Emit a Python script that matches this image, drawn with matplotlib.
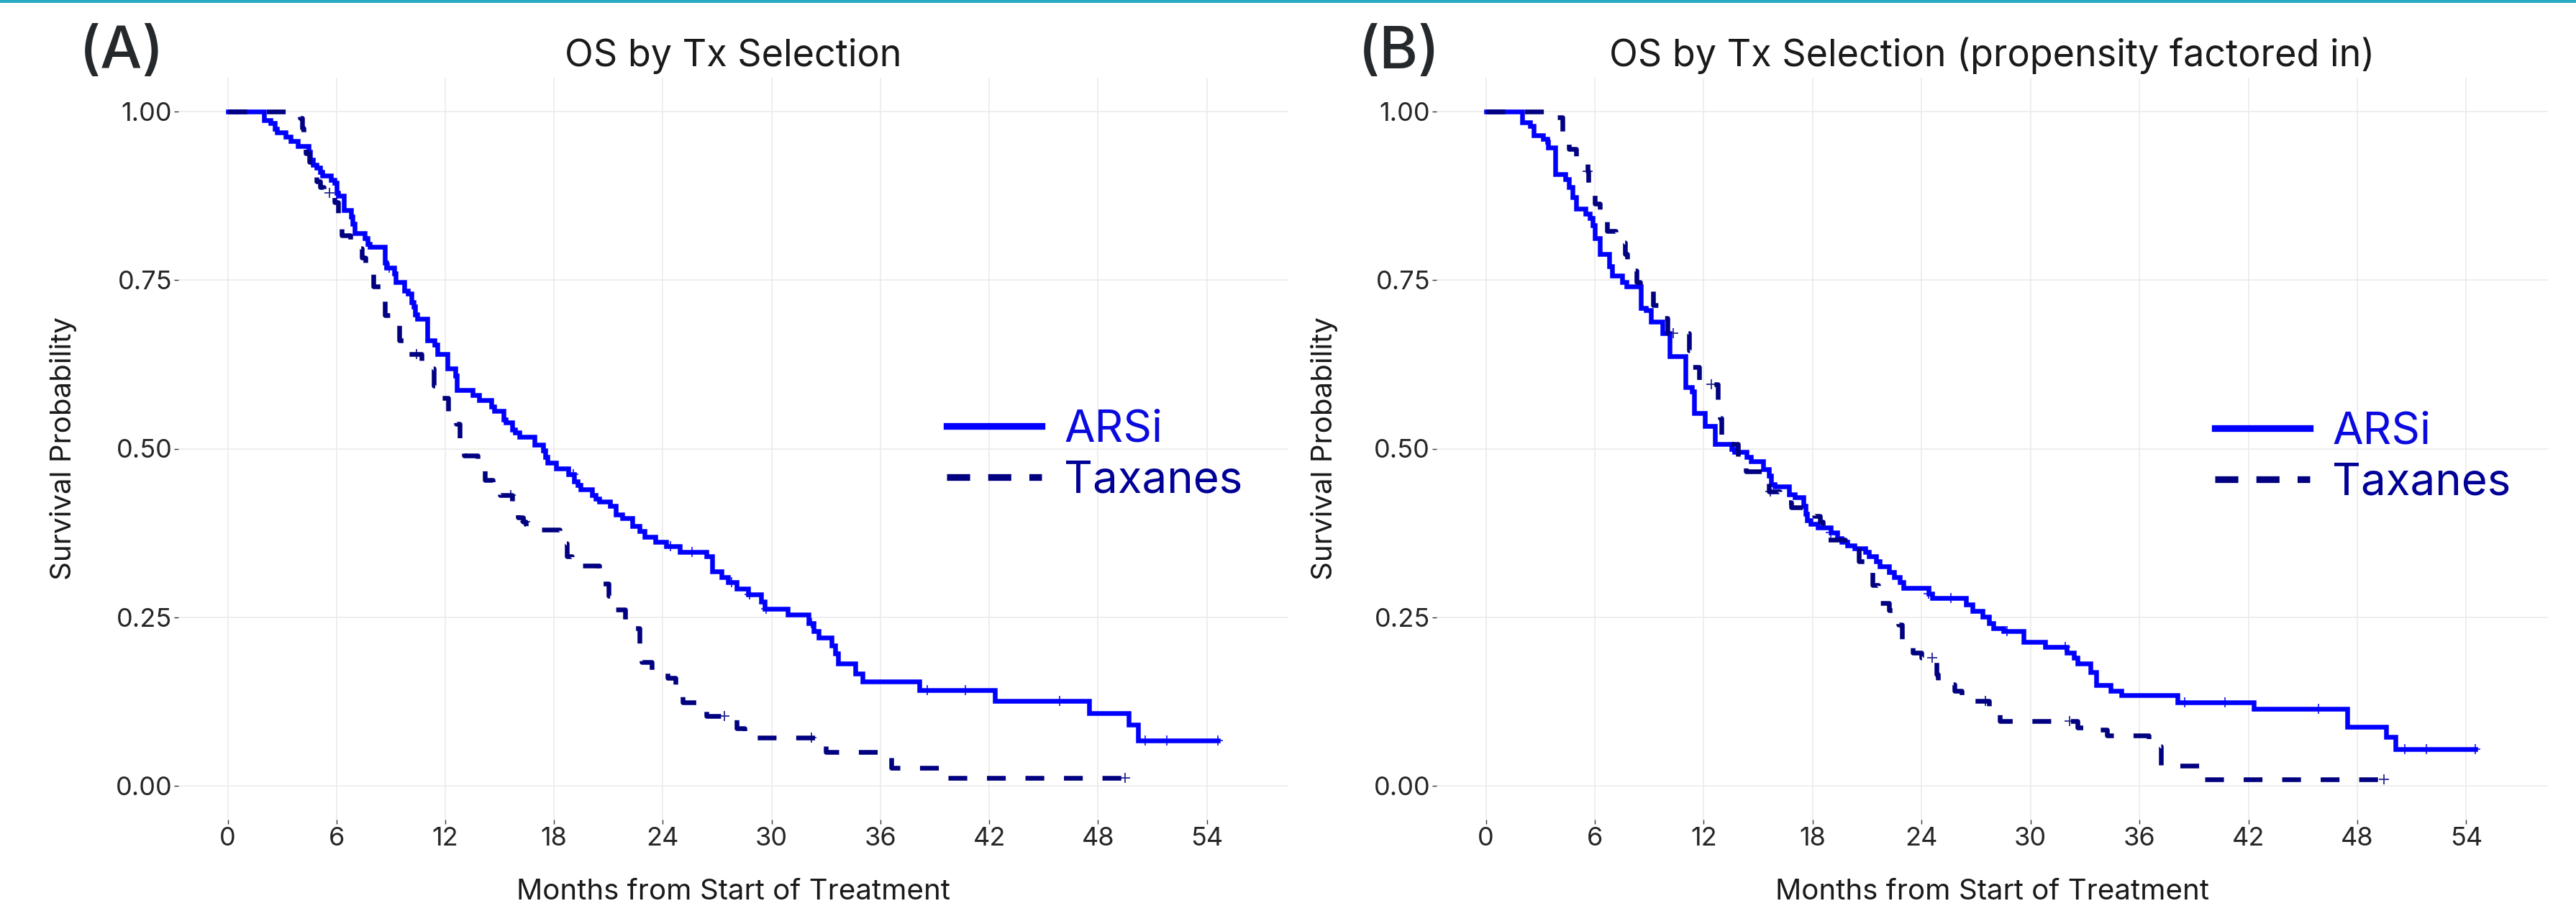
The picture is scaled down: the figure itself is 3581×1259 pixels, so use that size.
import numpy as np
import matplotlib
matplotlib.use("Agg")
import matplotlib.pyplot as plt
from matplotlib.lines import Line2D
from matplotlib.patches import Rectangle

plt.rcParams['font.family'] = ['Inter', 'DejaVu Sans']

# Kaplan-Meier steps: time (months) and survival after each step
arsi_a_t = [0, 2.0, 2.35, 2.6, 2.7, 3.2, 3.45, 3.85, 4.45, 4.55, 4.7, 4.9, 5.1, 5.2, 5.7, 5.9, 6.0, 6.1,
            6.4, 6.8, 6.9, 7.0, 7.55, 7.7, 7.85, 8.65, 8.75, 9.2, 9.25, 9.75, 9.95, 10.15, 10.25, 10.35,
            10.45, 11.0, 11.4, 11.55, 12.1, 12.55, 12.65, 13.5, 13.85, 14.55, 14.7, 15.2, 15.35, 15.7,
            15.85, 16.1, 16.9, 17.4, 17.5, 17.65, 18.1, 18.8, 19.1, 19.3, 19.45, 20.1, 20.3, 20.5, 21.1,
            21.4, 21.75, 22.3, 22.7, 23.0, 23.6, 24.2, 24.95, 26.4, 26.7, 27.25, 27.6, 28.05, 28.7, 29.4,
            29.6, 30.9, 32.05, 32.3, 32.6, 33.3, 33.5, 33.65, 34.6, 35.0, 38.15, 42.3, 47.5, 49.7, 50.2, 54.6]
arsi_a_s = [1.0, 0.987, 0.983, 0.974, 0.969, 0.963, 0.956, 0.949, 0.940, 0.928, 0.921, 0.917, 0.910, 0.905,
            0.898, 0.894, 0.879, 0.875, 0.854, 0.844, 0.833, 0.820, 0.812, 0.804, 0.799, 0.776, 0.768, 0.760,
            0.747, 0.734, 0.730, 0.717, 0.711, 0.699, 0.693, 0.661, 0.654, 0.640, 0.619, 0.608, 0.587, 0.579,
            0.572, 0.562, 0.556, 0.543, 0.539, 0.528, 0.524, 0.518, 0.506, 0.497, 0.488, 0.479, 0.471, 0.462,
            0.451, 0.446, 0.440, 0.431, 0.426, 0.422, 0.415, 0.402, 0.397, 0.385, 0.378, 0.369, 0.362, 0.355,
            0.347, 0.341, 0.318, 0.310, 0.302, 0.292, 0.284, 0.273, 0.263, 0.254, 0.241, 0.230, 0.220, 0.208,
            0.196, 0.181, 0.167, 0.155, 0.142, 0.126, 0.108, 0.091, 0.067, 0.067]
arsi_a_cens = [8.9, 19.05, 24.4, 25.6, 27.8, 28.8, 29.7, 32.2, 38.6, 40.7, 45.9, 50.6, 51.8, 54.6]

tax_a_t = [0, 4.0, 4.1, 4.2, 4.3, 4.5, 4.9, 5.1, 5.3, 5.9, 6.1, 6.3, 6.75, 7.4, 7.6, 8.05, 8.45, 8.65, 9.3,
           9.45, 9.8, 10.7, 11.2, 11.35, 11.8, 12.15, 12.6, 12.8, 13.05, 13.8, 14.2, 14.6, 15.0, 15.7, 16.0,
           16.3, 16.45, 18.3, 18.7, 19.0, 20.5, 21.0, 21.4, 21.9, 22.4, 22.7, 22.85, 23.4, 24.25, 24.7, 25.1,
           25.9, 26.4, 28.05, 28.5, 32.4, 33.0, 36.6, 39.4, 49.5]
tax_a_s = [1.0, 0.990, 0.975, 0.966, 0.938, 0.925, 0.896, 0.888, 0.879, 0.865, 0.843, 0.816, 0.797, 0.783,
           0.762, 0.741, 0.722, 0.698, 0.688, 0.661, 0.640, 0.629, 0.619, 0.593, 0.575, 0.553, 0.537, 0.511,
           0.490, 0.474, 0.454, 0.440, 0.431, 0.408, 0.398, 0.392, 0.380, 0.360, 0.340, 0.327, 0.300, 0.282,
           0.262, 0.246, 0.234, 0.209, 0.184, 0.168, 0.160, 0.146, 0.124, 0.118, 0.104, 0.085, 0.072, 0.060,
           0.050, 0.027, 0.012, 0.012]
tax_a_cens = [5.6, 10.4, 15.6, 16.4, 27.4, 32.2, 49.5]

arsi_b_t = [0, 2.0, 2.43, 2.63, 3.14, 3.4, 3.44, 3.81, 4.36, 4.56, 4.76, 4.96, 5.47, 5.73, 5.87, 5.98, 6.28,
            6.79, 6.93, 7.5, 7.76, 8.55, 8.81, 9.1, 9.72, 10.1, 11.0, 11.35, 11.45, 12.05, 12.6, 13.53, 13.67,
            14.34, 14.6, 15.25, 15.6, 15.7, 15.9, 16.7, 17.0, 17.5, 17.6, 17.7, 17.9, 18.3, 19.0, 19.35, 19.6,
            19.9, 20.3, 20.9, 21.1, 21.5, 21.7, 22.2, 22.5, 22.8, 23.0, 24.4, 24.6, 26.45, 26.8, 27.36, 27.7,
            27.93, 28.5, 29.6, 30.8, 32.0, 32.4, 32.6, 33.3, 33.6, 34.4, 35.0, 38.1, 42.3, 47.45, 49.6, 50.1, 54.5]
arsi_b_s = [1.0, 0.984, 0.978, 0.965, 0.959, 0.955, 0.947, 0.907, 0.900, 0.888, 0.873, 0.856, 0.848, 0.842,
            0.831, 0.812, 0.789, 0.770, 0.757, 0.747, 0.741, 0.709, 0.705, 0.688, 0.671, 0.637, 0.591, 0.585,
            0.553, 0.534, 0.507, 0.499, 0.495, 0.488, 0.481, 0.470, 0.460, 0.447, 0.444, 0.432, 0.428, 0.415,
            0.403, 0.394, 0.388, 0.383, 0.376, 0.367, 0.362, 0.356, 0.352, 0.347, 0.341, 0.333, 0.326, 0.317,
            0.310, 0.302, 0.294, 0.285, 0.279, 0.269, 0.259, 0.251, 0.241, 0.234, 0.230, 0.214, 0.206, 0.198,
            0.190, 0.181, 0.169, 0.149, 0.141, 0.135, 0.124, 0.114, 0.088, 0.073, 0.055, 0.055]
arsi_b_cens = [19.0, 24.4, 25.6, 28.7, 31.9, 38.5, 40.7, 45.85, 50.6, 51.8, 54.5]

tax_b_t = [0, 3.95, 4.2, 4.56, 4.96, 5.6, 5.65, 5.98, 6.28, 6.69, 7.13, 7.66, 7.8, 8.3, 8.5, 9.2, 9.6, 10.0,
           11.2, 11.35, 11.75, 11.95, 12.76, 12.9, 12.97, 13.5, 13.9, 14.3, 15.45, 15.6, 16.2, 16.8, 18.1,
           18.4, 18.55, 19.8, 20.55, 21.1, 21.3, 21.6, 22.2, 22.7, 22.9, 23.5, 24.0, 24.8, 24.9, 25.8, 26.2,
           27.7, 28.3, 32.6, 33.4, 34.2, 36.5, 37.0, 37.2, 39.5, 49.45]
tax_b_s = [1.0, 0.991, 0.966, 0.944, 0.928, 0.911, 0.886, 0.863, 0.844, 0.823, 0.806, 0.789, 0.764, 0.747,
           0.736, 0.713, 0.694, 0.671, 0.646, 0.621, 0.602, 0.595, 0.561, 0.545, 0.514, 0.507, 0.480, 0.466,
           0.455, 0.437, 0.420, 0.413, 0.400, 0.392, 0.365, 0.356, 0.333, 0.317, 0.298, 0.271, 0.261, 0.239,
           0.218, 0.198, 0.190, 0.165, 0.151, 0.141, 0.126, 0.114, 0.096, 0.087, 0.083, 0.075, 0.067, 0.059,
           0.030, 0.010, 0.010]
tax_b_cens = [5.6, 10.3, 12.4, 15.65, 24.6, 27.5, 32.15, 49.45]

x_ticks = [0, 6, 12, 18, 24, 30, 36, 42, 48, 54]
y_ticks = [0, 0.25, 0.5, 0.75, 1.0]
y_tick_labels = ['0.00', '0.25', '0.50', '0.75', '1.00']
groups = ['ARSi', 'Taxanes']
panel_tags = ['(A)', '(B)']
titles = ['OS by Tx Selection', 'OS by Tx Selection (propensity factored in)']
x_title = 'Months from Start of Treatment'
y_title = 'Survival Probability'

c_arsi = '#0000ff'
c_tax = '#000080'

W, H = 3581, 1259
fig = plt.figure(figsize=(W / 100, H / 100), dpi=100)
fig.add_artist(Rectangle((0, 1 - 4 / H), 1, 4 / H, transform=fig.transFigure,
                         facecolor='#29aac2', edgecolor='none'))


def km(ax, t, s, cens, color, dashed):
    ls = (0, (4.0, 4.2)) if dashed else '-'
    ax.step(t, s, where='post', color=color, lw=4.7, ls=ls, solid_joinstyle='miter')
    t = np.asarray(t)
    s = np.asarray(s)
    idx = np.searchsorted(t, cens, side='right') - 1
    ax.plot(cens, s[idx], ls='none', marker='+', ms=10, mew=1.3, color=color, alpha=0.85)


panels = [
    dict(left=248, right=1791, tag_x=110, ylab_x=99, leg_x=1316, leg_y=633,
         data=[(arsi_a_t, arsi_a_s, arsi_a_cens), (tax_a_t, tax_a_s, tax_a_cens)]),
    dict(left=1997, right=3542, tag_x=1888, ylab_x=1852, leg_x=3079, leg_y=636,
         data=[(arsi_b_t, arsi_b_s, arsi_b_cens), (tax_b_t, tax_b_s, tax_b_cens)]),
]
top, bottom = 108, 1139

for i, p in enumerate(panels):
    ax = fig.add_axes([p['left'] / W, 1 - bottom / H, (p['right'] - p['left']) / W, (bottom - top) / H])
    (ta, sa, ca), (tt, st, ct) = p['data']
    km(ax, ta, sa, ca, c_arsi, False)
    km(ax, tt, st, ct, c_tax, True)

    ax.set_xlim(-2.72, 58.5)
    ax.set_ylim(-0.05, 1.05)
    ax.set_xticks(x_ticks)
    ax.set_yticks(y_ticks)
    ax.set_yticklabels(y_tick_labels)
    ax.grid(color='#ebebeb', lw=1.2)
    ax.set_axisbelow(True)
    for sp in ax.spines.values():
        sp.set_visible(False)
    ax.tick_params(length=4.3, width=1.0, color='#333333', labelsize=26, labelcolor='#262626')
    ax.tick_params(axis='x', pad=3)
    ax.tick_params(axis='y', pad=2)

    cx = (p['left'] + p['right']) / 2 / W
    fig.text(p['tag_x'] / W, 1 - 95 / H, panel_tags[i], fontsize=59, color='#25292b',
             ha='left', va='baseline', fontweight='medium')
    fig.text(cx, 1 - 92 / H, titles[i], fontsize=37.5, color='#1a1a1a', ha='center', va='baseline')
    fig.text(cx, 1 - 1250 / H, x_title, fontsize=29, color='#1a1a1a', ha='center', va='baseline')
    fig.text(p['ylab_x'] / W, 1 - (top + bottom) / 2 / H, y_title, fontsize=29, color='#1a1a1a',
             rotation=90, rotation_mode='anchor', ha='center', va='baseline')

    handles = [Line2D([], [], color=c_arsi, lw=6.7),
               Line2D([], [], color=c_tax, lw=6.7, ls=(0, (3.45, 2.7)))]
    ax.legend(handles, groups, loc='center left', bbox_to_anchor=(p['leg_x'] / W, 1 - p['leg_y'] / H),
              bbox_transform=fig.transFigure, frameon=False, fontsize=44.5, handlelength=2.14,
              handletextpad=0.5, labelspacing=0.22, borderpad=0, borderaxespad=0,
              labelcolor=['#0a0ae0', '#000096'])

fig.savefig('out.png', dpi=100)
